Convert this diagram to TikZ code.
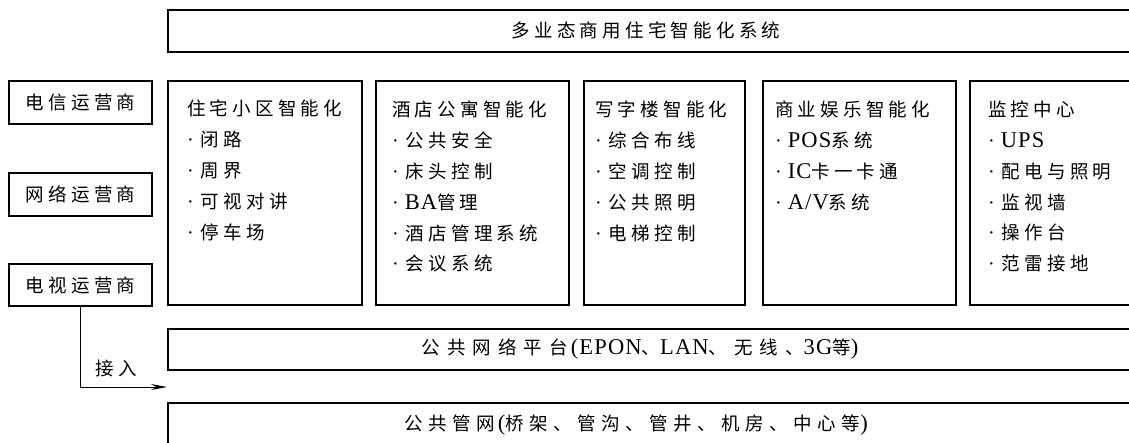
\documentclass[tikz,border=0pt]{standalone}
\usepackage{fontspec}
\setmainfont[LetterSpace=23]{Noto Sans CJK SC}
\newfontfamily\cjplat[LetterSpace=38]{Noto Sans CJK SC}
\newfontfamily\cjpipe[LetterSpace=30]{Noto Sans CJK SC}
\newfontfamily\la[LetterSpace=5]{Liberation Serif}
\newfontfamily\ladot{Liberation Serif}
\usetikzlibrary{arrows.meta}
\newcommand\lt[1]{{\la\fontsize{22.5pt}{30.8pt}\selectfont #1}}
\newcommand\bu{{\ladot\fontsize{20pt}{30.8pt}\selectfont ·}\hspace{7pt}}
\newcommand\bl{{\ladot\fontsize{20pt}{30.8pt}\selectfont ·}\hspace{6pt}}
\tikzset{
  box/.style={draw, line width=2.4pt, anchor=north west, inner sep=0pt},
  txt/.style={font=\fontsize{18.5pt}{30.8pt}\selectfont, inner sep=0pt},
  coltxt/.style={txt, anchor=north west, align=left},
}
\begin{document}
\begin{tikzpicture}[x=1pt,y=-1pt]
\useasboundingbox (0,0) rectangle (1129,442);
% top
\node[box, minimum width=970pt, minimum height=42pt] (top) at (167,9) {};
\node[txt] (toptxt) at (646,30) {多业态商用住宅智能化系统};
% operators
\node[box, minimum width=143pt, minimum height=43pt] (tel) at (8,80) {};
\node[txt] (teltxt) at (tel.center) {电信运营商};
\node[box, minimum width=143pt, minimum height=43pt] (net) at (8,172) {};
\node[txt] (nettxt) at (net.center) {网络运营商};
\node[box, minimum width=143pt, minimum height=42pt] (tv) at (8,263) {};
\node[txt] (tvtxt) at (tv.center) {电视运营商};
% columns
\node[box, minimum width=194pt, minimum height=224pt] (c1) at (167,80) {};
\node[box, minimum width=193pt, minimum height=224pt] (c2) at (375,80) {};
\node[box, minimum width=161pt, minimum height=224pt] (c3) at (583,80) {};
\node[box, minimum width=193pt, minimum height=224pt] (c4) at (762,80) {};
\node[box, minimum width=170pt, minimum height=224pt] (c5) at (969,80) {};
\node[coltxt] (t1) at (187,100) {住宅小区智能化\\\bu 闭路\\\bu 周界\\\bu 可视对讲\\\bu 停车场};
\node[coltxt] (t2) at (392,101) {酒店公寓智能化\\\bu 公共安全\\\bu 床头控制\\\bl\lt{BA}管理\\\bu 酒店管理系统\\\bu 会议系统};
\node[coltxt] (t3) at (595,101) {写字楼智能化\\\bu 综合布线\\\bu 空调控制\\\bu 公共照明\\\bu 电梯控制};
\node[coltxt] (t4) at (775,101) {商业娱乐智能化\\\bl\lt{POS}系统\\\bl\lt{IC}卡一卡通\\\bl\lt{A/V}系统};
\node[coltxt] (t5) at (988,101) {监控中心\\\bl\lt{UPS}\\\bu 配电与照明\\\bu 监视墙\\\bu 操作台\\\bu 范雷接地};
% platform rows
\node[box, minimum width=970pt, minimum height=41pt] (plat) at (167,328) {};
\node[txt] (plattxt) at (640,349) {\cjplat 公共网络平台\,\lt{(EPON}、\lt{LAN}、无线、\lt{3G}等\lt{)}};
\node[box, minimum width=970pt, minimum height=44pt] (pipe) at (167,402) {};
\node[txt] (pipetxt) at (636,425) {\cjpipe 公共管网\,\lt{(}桥架、管沟、管井、机房、中心等\lt{)}};
% access arrow
\coordinate (ain) at (167,387);
\draw[line width=1pt, -{Stealth[length=16pt,width=6pt]}] (tv.south) |- (ain);
\node[txt] (jr) at (116,368) {接入};
\end{tikzpicture}
\end{document}
